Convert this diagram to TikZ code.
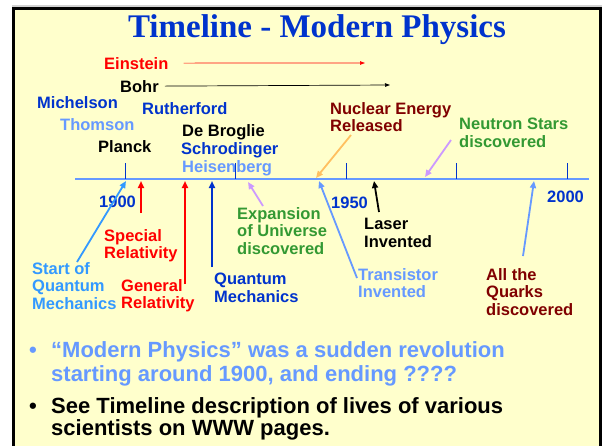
\documentclass[tikz,border=0pt]{standalone}
\usepackage{fontspec}
\setmainfont{Liberation Sans}
\newfontfamily\titlefont{Liberation Serif}
\usepackage{xcolor}
\usetikzlibrary{arrows.meta}
\definecolor{slideBlue}{RGB}{0,51,204}
\definecolor{paleBlue}{RGB}{102,153,255}
\definecolor{skyBlue}{RGB}{51,153,255}
\definecolor{lilac}{RGB}{204,153,255}
\definecolor{leafGreen}{RGB}{51,153,51}
\definecolor{darkRed}{RGB}{128,0,0}
\definecolor{peach}{RGB}{255,192,96}
\definecolor{slideYellow}{RGB}{255,255,204}

\begin{document}
\begin{tikzpicture}[x=1pt, y=-1pt,
  lbl/.style={inner sep=0pt, font=\fontsize{16.5}{17.8}\selectfont\bfseries, align=left},
  pnt/.style={inner sep=0pt, font=\fontsize{22}{24}\selectfont\bfseries, align=left},
  evt/.style={line width=1.8pt, -{Triangle[length=7pt,width=6pt]}},
  life/.style={line width=0.7pt, -{Triangle[length=5pt,width=3.5pt]}}]
  % --- slide frame -------------------------------------------------------
  \useasboundingbox (0,0) rectangle (602,445);
  \fill[white] (0,0) rectangle (602,445);
  \fill[gray!35] (12,5) rectangle (602,7);
  \fill[slideYellow] (13.5,8.5) rectangle (600.5,460);
  \draw[line width=2.5pt] (13.5,460) -- (13.5,8.5) -- (600.5,8.5) -- (600.5,460);
  \node[text=slideBlue, inner sep=0pt, anchor=base,
        font=\titlefont\fontsize{33}{36}\selectfont\bfseries] (title) at (317,37) {Timeline - Modern Physics};
  % --- scientists ----------------------------------------------------------
  \node[lbl, text=red, anchor=base west] (einstein) at (104,69) {Einstein};
  \node[lbl, anchor=base west] (bohr) at (120,92) {Bohr};
  \node[lbl, text=slideBlue, anchor=base west] (michelson) at (37,108) {Michelson};
  \node[lbl, text=slideBlue, anchor=base west] (rutherford) at (142,114) {Rutherford};
  \node[lbl, text=paleBlue, anchor=base west] (thomson) at (60,130) {Thomson};
  \node[lbl, anchor=base west] (debroglie) at (182,136) {De Broglie};
  \node[lbl, anchor=base west] (planck) at (98,152) {Planck};
  \node[lbl, text=slideBlue, anchor=base west] (schrodinger) at (181,154) {Schrodinger};
  \node[lbl, text=paleBlue, anchor=base west] (heisenberg) at (182,172) {Heisenberg};
  \coordinate (einsteinEnd) at (365,63);
  \coordinate (bohrEnd) at (390,85);
  \draw[life, red] ([xshift=15pt]einstein.east) -- (einsteinEnd);
  \draw[life] ([xshift=6pt]bohr.east) -- (bohrEnd);
  % --- events --------------------------------------------------------------
  \node[lbl, text=skyBlue, anchor=north west] (startQM) at (32,262) {Start of\\Quantum\\Mechanics};
  \node[lbl, text=red, anchor=north west] (specRel) at (104,229) {Special\\Relativity};
  \node[lbl, text=red, anchor=north west] (genRel) at (121,279) {General\\Relativity};
  \node[lbl, text=slideBlue, anchor=north west] (quantMech) at (214,273) {Quantum\\Mechanics};
  \node[lbl, text=leafGreen, anchor=north west] (expansion) at (237,207) {Expansion\\of Universe\\discovered};
  \node[lbl, text=darkRed, anchor=north west] (nuclear) at (330,102) {Nuclear Energy\\Released};
  \node[lbl, anchor=north west] (laser) at (364,218) {Laser\\Invented};
  \node[lbl, text=paleBlue, anchor=north west] (transistor) at (358,268) {Transistor\\Invented};
  \node[lbl, text=leafGreen, anchor=north west] (neutron) at (459,118) {Neutron Stars\\discovered};
  \node[lbl, text=darkRed, anchor=north west] (quarks) at (486,268) {All the\\Quarks\\discovered};
  % --- the time axis -------------------------------------------------------
  \coordinate (axisL) at (75,179);
  \coordinate (axisR) at (589,179);
  \draw[paleBlue, line width=2pt] (axisL) -- (axisR);
  \foreach \i in {0,...,4}
     \draw[slideBlue, line width=0.8pt] ({125+110.5*\i},163) -- ({125+110.5*\i},179);
  \node[lbl, text=slideBlue, anchor=base west] (y1900) at (99,207) {1900};
  \node[lbl, text=slideBlue, anchor=base west] (y1950) at (331,208) {1950};
  \node[lbl, text=slideBlue, anchor=base west] (y2000) at (547,202) {2000};
  % tail / head of each event arrow
  \foreach \ev/\col/\tx/\ty/\hx/\hy in {startQM/skyBlue/77/262/126/181, specRel/red/141/213/141/181,
        genRel/red/185/284/185/181, quantMech/slideBlue/212/267/212/181,
        expansion/lilac/263/206/248/182, nuclear/peach/351/135/316/178,
        transistor/paleBlue/357/278/319/181, laser/black/379/212/374/181,
        neutron/lilac/451/140/425/177, quarks/paleBlue/523/256/534/181} {
     \coordinate (\ev Tail) at (\tx,\ty);
     \coordinate (\ev Head) at (\hx,\hy);
     \draw[evt, \col] (\ev Tail) -- (\ev Head);
  }
  % --- bullet points -------------------------------------------------------
  \node[pnt, text=paleBlue, anchor=base] (dotA) at (33,357) {•};
  \node[pnt, text=paleBlue, anchor=north west] (pointA) at (51,341)
     {“Modern Physics” was a sudden revolution\\starting around 1900, and ending ????};
  \node[pnt, anchor=base] (dotB) at (33,413) {•};
  \node[pnt, anchor=north west, font=\fontsize{22}{22}\selectfont\bfseries] (pointB) at (51,397)
     {See Timeline description of lives of various\\scientists on WWW pages.};
\end{tikzpicture}
\end{document}
